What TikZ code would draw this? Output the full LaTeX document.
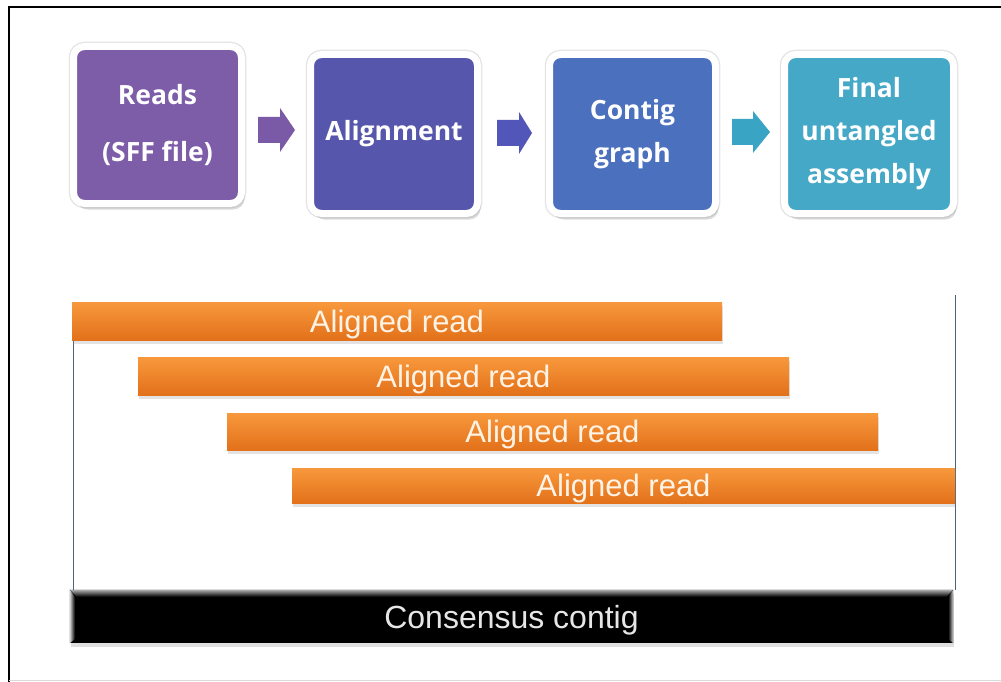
\documentclass[tikz,border=0pt]{standalone}
\usepackage{fontspec}
\setmainfont{Liberation Sans}
\newfontfamily\boxfont{Open Sans}
\usetikzlibrary{shadows,calc}
\definecolor{cReads}{HTML}{7D5CA8}
\definecolor{cAlign}{HTML}{5756AD}
\definecolor{cContig}{HTML}{4A70BE}
\definecolor{cFinal}{HTML}{44A8C6}
\definecolor{aReads}{HTML}{7A5AA6}
\definecolor{aAlign}{HTML}{5156B8}
\definecolor{aFinal}{HTML}{3AA4C4}
\definecolor{orTop}{HTML}{F8983C}
\definecolor{orBot}{HTML}{E2711A}
\definecolor{guide}{HTML}{4C6378}
\definecolor{readtext}{HTML}{FFF3E6}
\definecolor{constext}{HTML}{E6E6E6}
\begin{document}
\begin{tikzpicture}[x=1pt,y=-1pt,
  procbox/.style={rectangle, rounded corners=11pt, draw=white, line width=7pt,
    minimum width=168pt, minimum height=159pt, inner sep=0pt, align=center,
    text=white, font=\boxfont\bfseries\fontsize{26.5}{43}\selectfont,
    preaction={draw=gray!22, line width=9.5pt},
    drop shadow={opacity=0.28, shadow xshift=3pt, shadow yshift=-6pt}},
  readbar/.style={rectangle, inner sep=0pt, top color=orTop, bottom color=orBot,
    draw=none, text=readtext, font=\fontsize{31}{36}\selectfont,
    text height=22pt, text depth=0pt,
    drop shadow={opacity=0.22, shadow xshift=1pt, shadow yshift=-4pt}},
  consbar/.style={rectangle, inner sep=0pt, fill=black, draw=none,
    drop shadow={opacity=0.25, shadow xshift=1pt, shadow yshift=-4pt}},
  constxt/.style={text=constext, font=\fontsize{32}{36}\selectfont,
    text height=23pt, text depth=0pt, inner sep=0pt},
  guideline/.style={draw=guide, line width=1pt},
  frameline/.style={draw=black, line width=2pt},
]
\useasboundingbox (0,0) rectangle (1001,682);
\fill[white] (0,0) rectangle (1001,682);

% outer frame
\coordinate (fbl) at (9,683);
\coordinate (ftl) at (9,7);
\coordinate (ftr) at (1002,7);
\draw[frameline] (fbl) -- (ftl) -- (ftr);
\draw[gray!30, line width=1pt] (9,680.5) -- (1001,680.5);

% process boxes
\node[procbox, fill=cReads, minimum height=157pt] (reads) at (157.5,125) {Reads\\[14pt](SFF file)};
\node[procbox, fill=cAlign, minimum width=167pt] (align) at (394,134) {Alignment};
\node[procbox, fill=cContig, minimum width=166pt] (contig) at (632.5,134) {Contig\\graph};
\node[procbox, fill=cFinal, minimum width=169pt] (final) at (869,134) {Final\\untangled\\assembly};

% block arrows
\fill[aReads] (258,117) -- (280,117) -- (280,108) -- (295,130) -- (280,152) -- (280,143) -- (258,143) -- cycle;
\fill[aAlign] (497,120) -- (519,120) -- (519,112) -- (532,133) -- (519,154) -- (519,146) -- (497,146) -- cycle;
\fill[aFinal] (732,119) -- (753,119) -- (753,111) -- (770,132) -- (753,153) -- (753,145) -- (732,145) -- cycle;

% guide lines
\coordinate (ltop) at (73,330);
\coordinate (lbot) at (73,590);
\coordinate (rtop) at (955,295);
\coordinate (rbot) at (955,590);
\draw[guideline] (ltop) -- (lbot);
\draw[guideline] (rtop) -- (rbot);

% aligned reads
\node[readbar, minimum width=650pt, minimum height=38pt] (r1) at (397,321) {Aligned read};
\node[readbar, minimum width=651pt, minimum height=38pt] (r2) at (463.5,376) {Aligned read};
\node[readbar, minimum width=651pt, minimum height=37pt] (r3) at (552.5,431.5) {Aligned read};
\node[readbar, minimum width=663pt, minimum height=35pt] (r4) at (623.5,485.5) {Aligned read};

% consensus
\node[consbar, minimum width=883pt, minimum height=53pt] (cons) at (511.5,616.5) {};
\fill[top color=gray!65, bottom color=black] (cons.north west) -- (cons.north east) -- ++(-7,7) -- ($(cons.north west)+(7,7)$) -- cycle;
\fill[left color=gray!35, right color=black] (cons.north west) -- ($(cons.north west)+(5,7)$) -- ($(cons.south west)+(5,-4)$) -- (cons.south west) -- cycle;
\fill[right color=gray!35, left color=black] (cons.north east) -- ($(cons.north east)+(-5,7)$) -- ($(cons.south east)+(-5,-4)$) -- (cons.south east) -- cycle;
\node[constxt] (constext) at (cons.center) {Consensus contig};
\end{tikzpicture}
\end{document}
